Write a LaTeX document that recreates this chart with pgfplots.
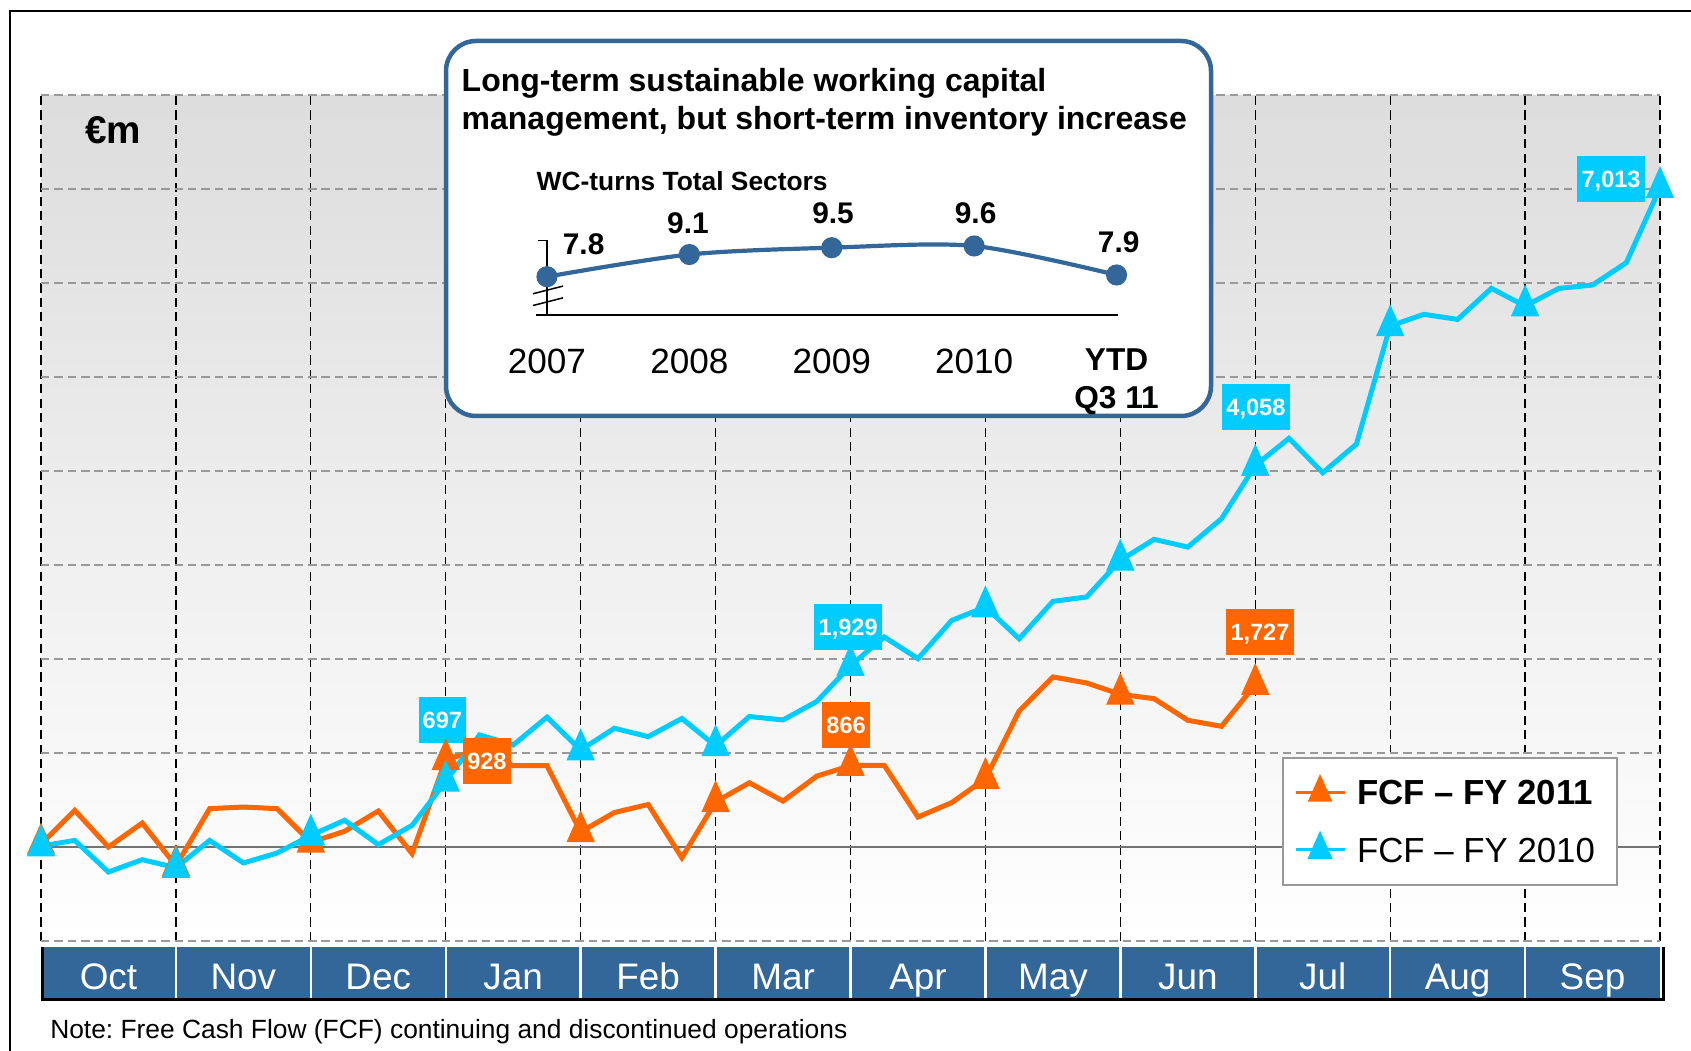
\documentclass[border=0pt]{standalone}
\usepackage{pgfplots}
\usepackage{pgfplotstable}
\pgfplotsset{compat=1.18}
\usepackage{fontspec}
\setmainfont{Liberation Sans}
\frenchspacing

\definecolor{fcfcyan}{RGB}{0,204,255}
\definecolor{fcforange}{RGB}{255,102,0}
\definecolor{wcblue}{RGB}{51,102,153}
\newcommand\fs[2]{\fontsize{#1}{#2}\selectfont}
\tikzset{lbl/.style={text=white, font=\bfseries\fs{6.7}{8}, inner xsep=0.42mm, inner ysep=0pt,
    minimum height=4.6mm, text height=4.8pt, text depth=0pt}}

% cumulative FCF in EUR m, x = week (0 = start of Oct, 48 = end of Sep)
\pgfplotstableread{
x y
0 30
1 390
2 0
3 255
4 -200
5 408
6 425
7 408
8 50
9 167
10 383
11 -70
12 928
13 1040
14 865
15 865
16 160
17 367
18 452
19 -114
20 480
21 683
22 488
23 754
24 866
25 869
26 319
27 472
28 727
29 1447
30 1809
31 1745
32 1624
33 1578
34 1348
35 1284
36 1727
}\fyeleven

\pgfplotstableread{
x y
0 10
1 70
2 -266
3 -135
4 -220
5 70
6 -170
7 -64
8 124
9 284
10 25
11 230
12 697
13 1192
14 1085
15 1381
16 1032
17 1263
18 1174
19 1367
20 1075
21 1388
22 1352
23 1548
24 1929
25 2234
26 2004
27 2411
28 2553
29 2216
30 2613
31 2660
32 3050
33 3273
34 3191
35 3493
36 4058
37 4348
38 3982
39 4287
40 5543
41 5667
42 5613
43 5943
44 5755
45 5943
46 5979
47 6216
48 7013
}\fyten

\begin{document}
\begin{tikzpicture}
\begin{scope}[x=0.1mm,y=-0.1mm]
  \useasboundingbox (0,0) rectangle (1691,1051);
  \draw[line width=0.2mm] (10,1100) -- (10,11) -- (1750,11);
  % month bar
  \foreach \m in {0,...,11}
    \fill[wcblue] ({41+\m*134.92},947) rectangle ({41+(\m+1)*134.92},998);
  \foreach \m in {1,...,11}
    \draw[white, line width=0.25mm] ({41+\m*134.92},947) -- ({41+\m*134.92},998);
  \draw[line width=0.3mm] (42,947) -- (42,999.5) -- (1663,999.5) -- (1663,947);
  \node[anchor=base west, inner sep=0pt, font=\fs{7.5}{9}] at (49.6,1038.5)
    {Note: Free Cash Flow (FCF) continuing and discontinued operations};
\end{scope}

\begin{axis}[
  at={(4.1mm,-94.1mm)}, anchor=south west,
  width=161.9mm, height=84.6mm, scale only axis,
  xmin=0, xmax=48, ymin=-1000, ymax=8000,
  axis line style={draw=none},
  xtick={2,6,...,46},
  xticklabels={Oct,Nov,Dec,Jan,Feb,Mar,Apr,May,Jun,Jul,Aug,Sep},
  xticklabel style={anchor=base, inner sep=0pt, yshift=-4.9mm, text=white, font=\fs{10.5}{12}},
  minor xtick={0,4,...,48},
  ytick={-1000,0,...,8000}, yticklabels={},
  major tick length=0pt, minor tick length=0pt,
  xmajorgrids=false, xminorgrids=true, ymajorgrids=true,
  x grid style={black, line width=0.12mm, dash pattern=on 2.6pt off 1.5pt},
  y grid style={black!40, line width=0.18mm, dash pattern=on 2.4pt off 1.4pt},
  axis background/.style={shade, top color=black!13.5, bottom color=white},
  clip=false,
  legend style={at={(0.974,0.065)}, anchor=south east, draw=black!40, line width=0.2mm, fill=white,
    font=\fs{9.9}{11.5}, inner xsep=1.1mm, inner ysep=1.2mm, row sep=1.1mm,
    nodes={inner sep=1.1mm, text height=6.9pt, text depth=0pt},
    /tikz/every even column/.append style={column sep=2.4mm}},
  legend cell align=left,
  legend image code/.code={\draw[mark repeat=2,mark phase=2]
    plot coordinates {(0mm,0mm)(2.45mm,0mm)(4.9mm,0mm)};},
]
\draw[black!55, line width=0.2mm] (axis cs:0,0) -- (axis cs:48,0);
\addplot[fcforange, line width=0.5mm, mark=triangle*, mark repeat=4, mark size=3.4pt,
  mark options={solid, yscale=1.3}, legend image post style={line width=0.25mm}]
  table[x=x, y=y] {\fyeleven};
\addplot[fcfcyan, line width=0.5mm, mark=triangle*, mark repeat=4, mark size=3.4pt,
  mark options={solid, yscale=1.3}, legend image post style={line width=0.3mm}]
  table[x=x, y=y] {\fyten};
\legend{\textbf{FCF – FY 2011}, FCF – FY 2010}
\node[lbl, fill=fcfcyan] at (axis cs:11.90,1349) {697};
\node[lbl, fill=fcforange] at (axis cs:13.22,919) {928};
\node[lbl, fill=fcfcyan] at (axis cs:23.93,2342) {1,929};
\node[lbl, fill=fcforange] at (axis cs:23.87,1301) {866};
\node[lbl, fill=fcfcyan] at (axis cs:36.02,4677) {4,058};
\node[lbl, fill=fcforange] at (axis cs:36.14,2289) {1,727};
\node[lbl, fill=fcfcyan] at (axis cs:46.55,7108) {7,013};
\end{axis}

\begin{scope}[x=0.1mm,y=-0.1mm]
  \node[anchor=base, inner sep=0pt, font=\bfseries\fs{11}{13}] at (113,144) {€m};
  \draw[wcblue, line width=0.45mm, rounded corners=3mm, fill=white] (446,41) rectangle (1211,416);
  \node[anchor=base west, inner sep=0pt, font=\bfseries\fs{9.1}{11}] at (461,91.5)
    {Long-term sustainable working capital};
  \node[anchor=base west, inner sep=0pt, font=\bfseries\fs{9.1}{11}] at (461,129.5)
    {management, but short-term inventory increase};
  \node[anchor=base west, inner sep=0pt, font=\bfseries\fs{7.5}{9}] at (536,191)
    {WC-turns Total Sectors};
\end{scope}

\begin{axis}[
  at={(53.6mm,-31.5mm)}, anchor=south west,
  width=58.2mm, height=7.43mm, scale only axis,
  xmin=-0.077, xmax=4.01, ymin=5.555, ymax=9.91,
  axis x line*=bottom, axis y line=none,
  x axis line style={black, line width=0.27mm},
  xtick={0,...,4}, xtick style={draw=none}, major tick length=0pt,
  xticklabels={2007,2008,2009,2010,{\textbf{\fs{9}{10.8}YTD}\\\textbf{\fs{9}{10.8}Q3 11}}},
  xticklabel style={anchor=north, inner sep=0pt, yshift=-3.3mm, align=center, font=\fs{10}{10.8}},
  clip=false,
]
\draw[line width=0.15mm] (axis cs:-0.063,9.91) -- (axis cs:0,9.91) -- (axis cs:0,5.555);
\draw[line width=0.15mm] (axis cs:-0.098,6.80) -- (axis cs:0.113,7.25);
\draw[line width=0.15mm] (axis cs:-0.098,6.11) -- (axis cs:0.113,6.56);
\addplot[wcblue, line width=0.42mm, smooth, mark=*, mark size=2.4pt]
  coordinates {(0,7.8) (1,9.1) (2,9.5) (3,9.6) (4,7.9)};
\end{axis}

\begin{scope}[x=0.1mm,y=-0.1mm]
  \begin{scope}[every node/.style={anchor=base, inner sep=0pt, font=\bfseries\fs{8.5}{10}}]
    \node at (583.6,254.7) {7.8};
    \node at (688,233.4) {9.1};
    \node at (833,223.7) {9.5};
    \node at (975.6,223.4) {9.6};
    \node at (1118.7,253) {7.9};
  \end{scope}
\end{scope}
\end{tikzpicture}
\end{document}
